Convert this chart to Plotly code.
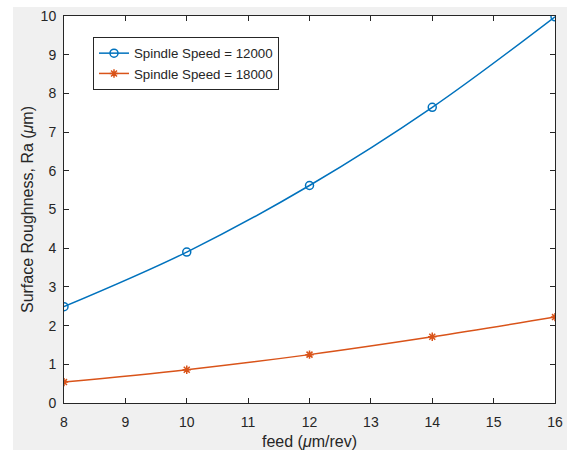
import plotly.graph_objects as go

feed = [8, 10, 12, 14, 16]
ra_12000 = [2.49, 3.90, 5.62, 7.64, 9.98]
ra_18000 = [0.54, 0.86, 1.25, 1.71, 2.22]
x_ticks = [8, 9, 10, 11, 12, 13, 14, 15, 16]
y_ticks = [0, 1, 2, 3, 4, 5, 6, 7, 8, 9, 10]

W, H = 567, 450
ml, mr, mt, mb = 64, 12, 16, 47
FONT = "Liberation Sans, Arial, Helvetica"
TXT = "#262626"

fig = go.Figure()
fig.add_trace(go.Scatter(
    x=feed, y=ra_12000, mode="lines+markers", name="Spindle Speed = 12000",
    line=dict(color="#0072BD", width=1.5, shape="spline"),
    marker=dict(symbol="circle-open", size=8, color="#0072BD", line=dict(width=1.5)),
))
fig.add_trace(go.Scatter(
    x=feed, y=ra_18000, mode="lines+markers", name="Spindle Speed = 18000",
    line=dict(color="#D95319", width=1.5, shape="spline"),
    marker=dict(symbol="asterisk-open", size=7, color="#D95319", line=dict(width=1.5, color="#D95319")),
))

axis_common = dict(
    automargin=False,
    showline=True, linecolor=TXT, linewidth=1, mirror="ticks",
    ticks="inside", ticklen=5, tickcolor=TXT, showgrid=False, zeroline=False,
    tickfont=dict(family=FONT, size=14, color=TXT),
)

# gray figure background with white strips at left and top (pixel-sized)
shapes = [
    dict(type="rect", xref="paper", yref="paper", layer="below",
         xsizemode="pixel", xanchor=0, x0=-ml - 5, x1=13 - ml,
         ysizemode="pixel", yanchor=0, y0=-mb - 5, y1=H,
         fillcolor="white", line=dict(width=0)),
    dict(type="rect", xref="paper", yref="paper", layer="below",
         xsizemode="pixel", xanchor=0, x0=-ml - 5, x1=W,
         ysizemode="pixel", yanchor=1, y0=mt - 7, y1=mt + 5,
         fillcolor="white", line=dict(width=0)),
]

fig.update_layout(
    width=W, height=H, autosize=False,
    margin=dict(l=ml, r=mr, t=mt, b=mb, pad=0),
    paper_bgcolor="#f0f0f0", plot_bgcolor="white",
    font=dict(family=FONT, color=TXT),
    xaxis=dict(range=[8, 16], tickvals=x_ticks,
               title=dict(text="feed (<i>μ</i>m/rev)", font=dict(size=16, color=TXT), standoff=8),
               ticklabelstandoff=6, **axis_common),
    yaxis=dict(range=[0, 10], tickvals=y_ticks,
               title=dict(text="Surface Roughness, Ra (<i>μ</i>m)", font=dict(size=16, color=TXT), standoff=3),
               ticklabelstandoff=4, **axis_common),
    legend=dict(x=(93 - ml) / (W - ml - mr), y=(H - mb - 37) / (H - mt - mb), xanchor="left", yanchor="top",
                bgcolor="white", bordercolor=TXT, borderwidth=1,
                font=dict(family=FONT, size=13.3, color=TXT),
                tracegroupgap=0, itemwidth=30),
    shapes=shapes,
    showlegend=True,
)

fig.write_html("out.html")
